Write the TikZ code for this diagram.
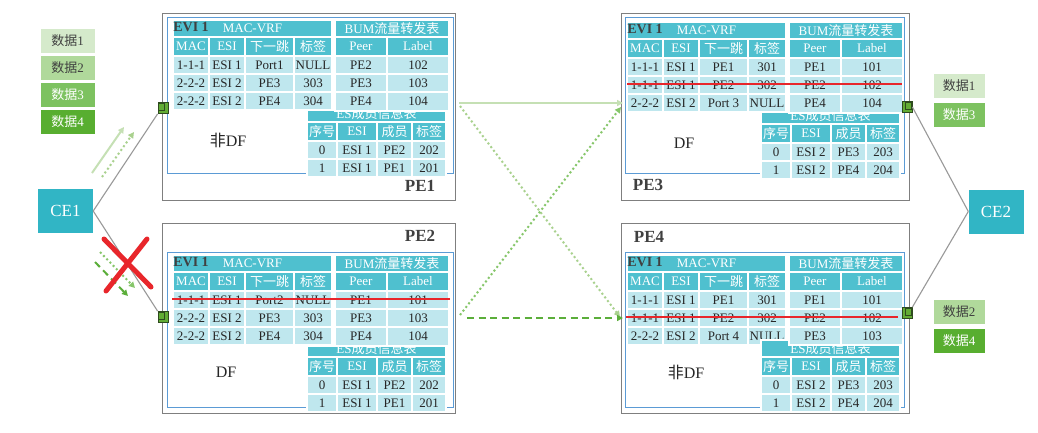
\documentclass[tikz,border=0pt]{standalone}
\usepackage{fontspec}
\setmainfont{Liberation Serif}
\newfontfamily\cjk{Noto Sans CJK SC}
\usetikzlibrary{arrows.meta}
\definecolor{hdr}{HTML}{4FC0CF}
\definecolor{dat}{HTML}{BFE7EE}
\definecolor{boxgray}{HTML}{7F7F7F}
\definecolor{boxblue}{HTML}{5B9BD5}
\definecolor{ceteal}{HTML}{31B5C5}
\definecolor{dA}{HTML}{D5EACB}
\definecolor{dB}{HTML}{B0D99B}
\definecolor{dC}{HTML}{7DC260}
\definecolor{dD}{HTML}{58AE30}
\definecolor{arA}{HTML}{C5E0B4}
\definecolor{arB}{HTML}{A9D18E}
\definecolor{arC}{HTML}{86C66A}
\definecolor{arD}{HTML}{5BAE3A}
\definecolor{strike}{HTML}{E8262B}
\definecolor{txt}{HTML}{262626}
\definecolor{lbl}{HTML}{404040}
\definecolor{portg}{HTML}{62AC35}
\definecolor{portd}{HTML}{2E4A1E}
\def\ox{0}\def\oy{0}\def\pfx{x}
\newcommand\tcell[7]{\node[#6, minimum width={(#4)-(#2)}, minimum height={(#5)-(#3)}] (\pfx-#1) at ({\ox+((#2)+(#4))/2},{\oy+((#3)+(#5))/2}) {#7};}
\newcommand\machead{%
 \tcell{mt}{5}{0}{164}{17}{th}{MAC-VRF}
 \tcell{mha}{5}{17}{41}{36}{th}{MAC}
 \tcell{mhb}{41}{17}{77}{36}{th}{ESI}
 \tcell{mhc}{77}{17}{126}{36}{th}{{\cjk 下一跳}}
 \tcell{mhd}{126}{17}{164}{36}{th}{{\cjk 标签}}}
\newcommand\macrow[7]{%
 \tcell{m#1a}{5}{#2}{41}{#3}{td}{#4}
 \tcell{m#1b}{41}{#2}{77}{#3}{td}{#5}
 \tcell{m#1c}{77}{#2}{126}{#3}{td}{#6}
 \tcell{m#1d}{126}{#2}{164}{#3}{td}{#7}}
\newcommand\eshead[1]{%
 \tcell{et}{139}{#1}{278}{102}{th}{}
 \node[tc, text=white] (\pfx-etx) at ({\ox+208.5},{\oy+94}) {ES{\cjk 成员信息表}};
 \tcell{eha}{139}{102}{169}{121}{th}{{\cjk 序号}}
 \tcell{ehb}{169}{102}{209}{121}{th}{ESI}
 \tcell{ehc}{209}{102}{244}{121}{th}{{\cjk 成员}}
 \tcell{ehd}{244}{102}{278}{121}{th}{{\cjk 标签}}}
\newcommand\esrow[7]{%
 \tcell{e#1a}{139}{#2}{169}{#3}{td}{#4}
 \tcell{e#1b}{169}{#2}{209}{#3}{td}{#5}
 \tcell{e#1c}{209}{#2}{244}{#3}{td}{#6}
 \tcell{e#1d}{244}{#2}{278}{#3}{td}{#7}}
\newcommand\bumhead{%
 \tcell{bt}{167}{0}{281}{17}{th}{BUM{\cjk 流量转发表}}
 \tcell{bha}{167}{17}{219}{36}{th}{Peer}
 \tcell{bhb}{219}{17}{281}{36}{th}{Label}}
\newcommand\bumrow[5]{%
 \tcell{b#1a}{167}{#2}{219}{#3}{td}{#4}
 \tcell{b#1b}{219}{#2}{281}{#3}{td}{#5}}
\newcommand\evi{\node[evi] (\pfx-evi) at ({\ox+23},{\oy+7}) {EVI 1};}
\begin{document}
\begin{tikzpicture}[x=1pt,y=-1pt,
  tc/.style={inner sep=0pt, outer sep=0pt, font=\fontsize{13}{15}\selectfont},
  th/.style={tc, draw=white, line width=1.2pt, fill=hdr, text=white},
  td/.style={tc, draw=white, line width=1.2pt, fill=dat, text=txt},
  evi/.style={inner sep=0pt, font=\fontsize{14}{16}\selectfont\bfseries, text=lbl},
  pelabel/.style={inner sep=0pt, font=\fontsize{17}{19}\selectfont\bfseries, text=lbl},
  dflabel/.style={inner sep=0pt, font=\fontsize{16}{18}\selectfont, text=txt},
  graybox/.style={draw=boxgray, line width=1pt},
  bluebox/.style={draw=boxblue, line width=1pt},
  port/.style={draw=portd, fill=portg, line width=0.8pt, minimum width=10pt, minimum height=11pt, inner sep=0pt},
  portin/.style={draw=portd, line width=0.6pt, minimum width=6pt, minimum height=7pt, inner sep=0pt},
  ce/.style={fill=ceteal, text=white, minimum width=55pt, minimum height=44pt, inner sep=0pt, font=\fontsize{17}{19}\selectfont},
  data/.style={draw=white, line width=0.8pt, minimum width=55pt, minimum height=25pt, inner sep=0pt, font=\fontsize{13}{15}\selectfont},
  conn/.style={draw=black!40, line width=1.1pt},
  tip/.style={-{Triangle[length=6pt,width=6pt]}},
  flowA/.style={tip, draw=arA, line width=2pt},
  flowB/.style={tip, draw=arB, line width=2pt, dash pattern=on 2pt off 2.6pt},
  flowC/.style={tip, draw=arC, line width=2pt, dash pattern=on 2pt off 2.6pt},
  flowD/.style={tip, draw=arD, line width=2pt, dash pattern=on 7pt off 4.5pt},
  strikeline/.style={draw=strike, line width=2.5pt},
  xmark/.style={draw=strike, line width=5pt, line cap=round}]
\path[use as bounding box, fill=white] (0,0) rectangle (1038,432);

% ---------- PE1 ----------
\draw[graybox] (162,13) rectangle (455,200);
\draw[bluebox] (167,17) rectangle (453,173);
\def\ox{168}\def\oy{20}\def\pfx{pe1}
\machead
\macrow{1}{36}{54}{1-1-1}{ESI 1}{Port1}{NULL}
\macrow{2}{54}{72}{2-2-2}{ESI 2}{PE3}{303}
\macrow{3}{72}{90}{2-2-2}{ESI 2}{PE4}{304}
\eshead{90}
\esrow{1}{121}{139}{0}{ESI 1}{PE2}{202}
\esrow{2}{139}{157}{1}{ESI 1}{PE1}{201}
\bumhead
\bumrow{1}{36}{54}{PE2}{102}
\bumrow{2}{54}{72}{PE3}{103}
\bumrow{3}{72}{91}{PE4}{104}
\evi
\node[dflabel] (pe1-df) at (228,140) {{\cjk 非}DF};
\node[pelabel] (pe1-name) at (420,186) {PE1};

% ---------- PE2 ----------
\draw[graybox] (162,223) rectangle (455,413);
\draw[bluebox] (167,252) rectangle (453,407);
\def\ox{168}\def\oy{255}\def\pfx{pe2}
\machead
\macrow{1}{36}{54}{1-1-1}{ESI 1}{Port2}{NULL}
\macrow{2}{54}{72}{2-2-2}{ESI 2}{PE3}{303}
\macrow{3}{72}{90}{2-2-2}{ESI 2}{PE4}{304}
\eshead{91}
\esrow{1}{121}{139}{0}{ESI 1}{PE2}{202}
\esrow{2}{139}{157}{1}{ESI 1}{PE1}{201}
\bumhead
\bumrow{1}{36}{54}{PE1}{101}
\bumrow{2}{54}{72}{PE3}{103}
\bumrow{3}{72}{91}{PE4}{104}
\evi
\coordinate (pe2-s1) at (172,299);
\coordinate (pe2-s2) at (450,299);
\draw[strikeline] (pe2-s1) -- (pe2-s2);
\node[dflabel] (pe2-df) at (226,372) {DF};
\node[pelabel] (pe2-name) at (420,236) {PE2};

% ---------- PE3 ----------
\draw[graybox] (621,13) rectangle (909,200);
\draw[bluebox] (625,17) rectangle (904,173);
\def\ox{622}\def\oy{22}\def\pfx{pe3}
\machead
\macrow{1}{36}{54}{1-1-1}{ESI 1}{PE1}{301}
\macrow{2}{54}{72}{1-1-1}{ESI 1}{PE2}{302}
\macrow{3}{72}{90}{2-2-2}{ESI 2}{Port 3}{NULL}
\eshead{90}
\esrow{1}{121}{139}{0}{ESI 2}{PE3}{203}
\esrow{2}{139}{157}{1}{ESI 2}{PE4}{204}
\bumhead
\bumrow{1}{36}{54}{PE1}{101}
\bumrow{2}{54}{72}{PE2}{102}
\bumrow{3}{72}{91}{PE4}{104}
\evi
\coordinate (pe3-s1) at (627,84);
\coordinate (pe3-s2) at (902,84);
\draw[strikeline] (pe3-s1) -- (pe3-s2);
\node[dflabel] (pe3-df) at (684,143) {DF};
\node[pelabel] (pe3-name) at (648,185) {PE3};

% ---------- PE4 ----------
\draw[graybox] (621,223) rectangle (909,413);
\draw[bluebox] (625,252) rectangle (904,407);
\def\ox{622}\def\oy{255}\def\pfx{pe4}
\machead
\macrow{1}{36}{54}{1-1-1}{ESI 1}{PE1}{301}
\macrow{2}{54}{72}{1-1-1}{ESI 1}{PE2}{302}
\macrow{3}{72}{90}{2-2-2}{ESI 2}{Port 4}{NULL}
\eshead{85}
\esrow{1}{121}{139}{0}{ESI 2}{PE3}{203}
\esrow{2}{139}{157}{1}{ESI 2}{PE4}{204}
\bumhead
\bumrow{1}{36}{54}{PE1}{101}
\bumrow{2}{54}{72}{PE2}{102}
\bumrow{3}{72}{90}{PE3}{103}
\evi
\coordinate (pe4-s1) at (626,317);
\coordinate (pe4-s2) at (898,317);
\draw[strikeline] (pe4-s1) -- (pe4-s2);
\node[dflabel] (pe4-df) at (686,372) {{\cjk 非}DF};
\node[pelabel] (pe4-name) at (649,237) {PE4};

% ---------- ports ----------
\node[port] (p1) at (163,108) {};
\node[portin] (p1i) at (161.5,107) {};
\node[port] (p2) at (163,317) {};
\node[portin] (p2i) at (161.5,316) {};
\node[port] (p3) at (907,107) {};
\node[portin] (p3i) at (908.5,106) {};
\node[port] (p4) at (907,313) {};
\node[portin] (p4i) at (908.5,312) {};

% ---------- CEs ----------
\node[ce] (ce1) at (65.5,211) {CE1};
\node[ce] (ce2) at (996,211.5) {CE2};
\draw[conn] (ce1.east) -- (p1.south west);
\draw[conn] (ce1.east) -- (p2.north west);
\draw[conn] (p3.east) -- (ce2.west);
\draw[conn] (p4.north east) -- (ce2.west);

% ---------- data labels ----------
\node[data, fill=dA, text=lbl] (l1) at (67.5,40.5) {{\cjk 数据}1};
\node[data, fill=dB, text=lbl] (l2) at (67.5,67.5) {{\cjk 数据}2};
\node[data, fill=dC, text=white] (l3) at (67.5,94.5) {{\cjk 数据}3};
\node[data, fill=dD, text=white] (l4) at (67.5,121.5) {{\cjk 数据}4};
\node[data, fill=dA, text=lbl, minimum width=52pt] (r1) at (959,86) {{\cjk 数据}1};
\node[data, fill=dC, text=white, minimum width=52pt] (r3) at (959,114.5) {{\cjk 数据}3};
\node[data, fill=dB, text=lbl, minimum width=52pt] (r2) at (959,311.5) {{\cjk 数据}2};
\node[data, fill=dD, text=white, minimum width=52pt] (r4) at (959,340.5) {{\cjk 数据}4};

% ---------- flow arrows ----------
\coordinate (f1s) at (92,173); \coordinate (f1e) at (124,127);
\coordinate (f2s) at (102,177); \coordinate (f2e) at (134,132);
\coordinate (f3s) at (100,252); \coordinate (f3e) at (135,288);
\coordinate (f4s) at (95,262); \coordinate (f4e) at (128,296);
\draw[flowA] (f1s) -- (f1e);
\draw[flowB] (f2s) -- (f2e);
\draw[flowC] (f3s) -- (f3e);
\draw[flowD] (f4s) -- (f4e);

\coordinate (m1s) at (459,103); \coordinate (m1e) at (623,103);
\coordinate (m2s) at (460,106); \coordinate (m2e) at (620,317);
\coordinate (m3s) at (460,315); \coordinate (m3e) at (621,107);
\coordinate (m4s) at (467,318); \coordinate (m4e) at (623,318);
\draw[flowA] (m1s) -- (m1e);
\draw[flowB] (m2s) -- (m2e);
\draw[flowC] (m3s) -- (m3e);
\draw[flowD] (m4s) -- (m4e);

% ---------- red X ----------
\coordinate (x1a) at (104,239); \coordinate (x1b) at (151,287);
\coordinate (x2a) at (147,239); \coordinate (x2b) at (106,291);
\draw[xmark] (x1a) -- (x1b);
\draw[xmark] (x2a) -- (x2b);
\end{tikzpicture}
\end{document}
